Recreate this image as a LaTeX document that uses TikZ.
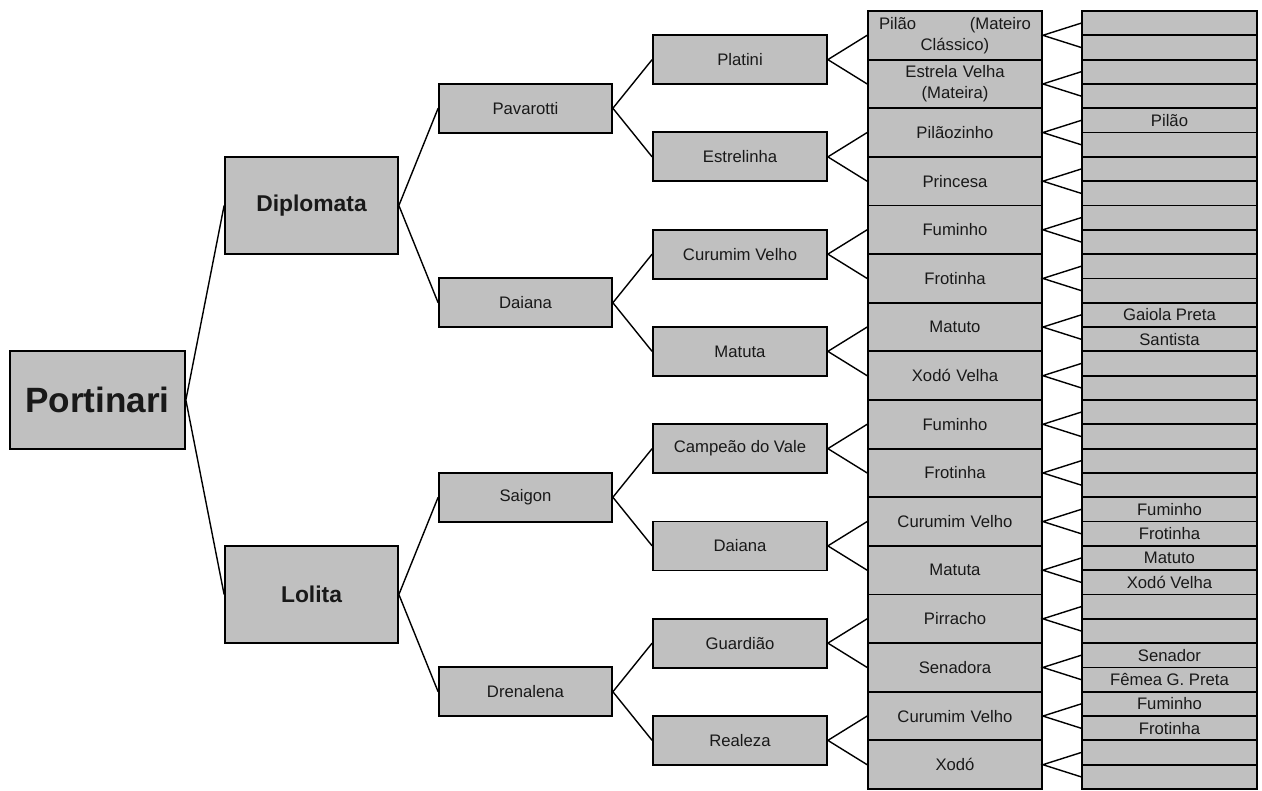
\documentclass[tikz,border=0pt]{standalone}
\usepackage{fontspec}
\setmainfont{Liberation Sans}
\usepackage{tikz}
\definecolor{boxgray}{RGB}{192,192,192}
\definecolor{textgray}{RGB}{25,25,25}

\begin{document}
\begin{tikzpicture}[x=0.02cm,y=-0.02cm,
    box/.style={draw=black,line width=1pt,fill=boxgray,inner sep=0pt,text=textgray,
      font=\fontsize{9.5}{12}\selectfont,align=center},
    gen1/.style={box,minimum width=175*0.02cm,minimum height=98*0.02cm,
      font=\fontsize{20}{24}\selectfont\bfseries},
    gen2/.style={box,minimum width=173*0.02cm,minimum height=97*0.02cm,
      font=\fontsize{13}{16}\selectfont\bfseries},
    gen3/.style={box,minimum width=173*0.02cm,minimum height=49*0.02cm},
    gen4/.style={box,minimum width=174*0.02cm,minimum height=49*0.02cm},
    gen5/.style={box,minimum width=174*0.02cm,minimum height=48.6*0.02cm,text width=152*0.02cm},
    gen6/.style={box,minimum width=175*0.02cm,minimum height=24.3*0.02cm},
    link/.style={line width=0.8pt}]
        \useasboundingbox (0,0) rectangle (1262,791);
        \def\h{48.625}
        %Generation 1 and 2
        \node[gen1] (a) at (97.5,{11+8*\h}) {Portinari};
        \node[gen2] (b1) at (311.5,{11+4*\h}) {Diplomata};
        \node[gen2] (b2) at (311.5,{11+12*\h}) {Lolita};
        %Generation 3
        \foreach \t [count=\i] in {Pavarotti,Daiana,Saigon,Drenalena}
          \node[gen3] (c\i) at (525.5,{11+\h*(4*\i-2)}) {\t};
        %Generation 4
        \foreach \t [count=\i] in {Platini,Estrelinha,Curumim Velho,Matuta,
            Campeão do Vale,Daiana,Guardião,Realeza}
          \node[gen4] (d\i) at (740,{11+\h*(2*\i-1)}) {\t};
        %Generation 5
        \foreach \t [count=\i] in {{Pilão\hfill(Mateiro\\Clássico)},{Estrela Velha\\(Mateira)},
            Pilãozinho,Princesa,Fuminho,Frotinha,Matuto,Xodó Velha,
            Fuminho,Frotinha,Curumim Velho,Matuta,Pirracho,Senadora,Curumim Velho,Xodó}
          \node[gen5] (e\i) at (955,{11+\h*(\i-0.5)}) {\t};
        %Generation 6
        \foreach \t [count=\i] in {{},{},{},{},Pilão,{},{},{},
            {},{},{},{},Gaiola Preta,Santista,{},{},
            {},{},{},{},Fuminho,Frotinha,Matuto,Xodó Velha,
            {},{},Senador,Fêmea G. Preta,Fuminho,Frotinha,{},{}}
          \node[gen6] (f\i) at (1169.5,{11+\h/2*(\i-0.5)}) {\t};

        %Draw links
        \draw[link] (b1.west) -- (a.east) -- (b2.west);
        \foreach \i [evaluate=\i as \j using int(2*\i-1),
                     evaluate=\i as \k using int(2*\i)] in {1,2}
          \draw[link] (c\j.west) -- (b\i.east) -- (c\k.west);
        \foreach \i [evaluate=\i as \j using int(2*\i-1),
                     evaluate=\i as \k using int(2*\i)] in {1,...,4}
          \draw[link] (d\j.west) -- (c\i.east) -- (d\k.west);
        \foreach \i [evaluate=\i as \j using int(2*\i-1),
                     evaluate=\i as \k using int(2*\i)] in {1,...,8}
          \draw[link] (e\j.west) -- (d\i.east) -- (e\k.west);
        \foreach \i [evaluate=\i as \j using int(2*\i-1),
                     evaluate=\i as \k using int(2*\i)] in {1,...,16}
          \draw[link] (f\j.west) -- (e\i.east) -- (f\k.west);
      \end{tikzpicture}
\end{document}
